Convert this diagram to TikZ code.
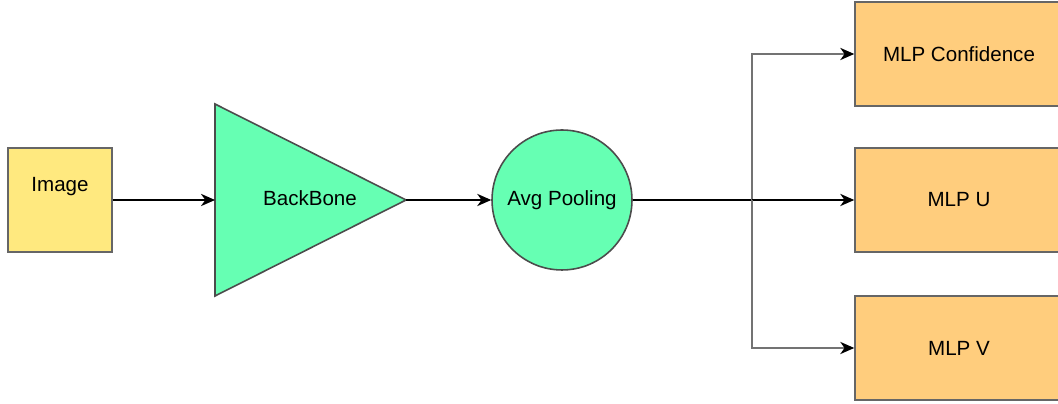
\documentclass[tikz,border=0pt]{standalone}
\usepackage{fontspec}
\setmainfont{Liberation Sans}
\usetikzlibrary{arrows.meta}

\begin{document}
\begin{tikzpicture}[x=0.02cm, y=-0.02cm,
  every node/.style = {font=\fontsize{11.7}{14}\selectfont},
  box/.style = {shape=rectangle, draw=black!60, line width=0.9pt,
    minimum width=2.08cm, minimum height=2.08cm, inner sep=0pt},
  imgbox/.style = {box, fill=imgfill},
  mlpbox/.style = {box, fill=mlpfill, minimum width=4.16cm},
  arr/.style = {line width=0.8pt, -{Stealth[length=8pt, width=7pt, inset=2.5pt, black]}},
  branch/.style = {arr, draw=black!55}]
  \definecolor{imgfill}{HTML}{FFE97F}
  \definecolor{netfill}{HTML}{66FFB3}
  \definecolor{mlpfill}{HTML}{FFCD7D}
  \useasboundingbox (0,0) rectangle (1058,404);
  \node[imgbox, label={[yshift=0.26cm]center:Image}] (img) at (60,200) {};
  \draw[draw=black!70, line width=0.9pt, fill=netfill]
    (215,104) coordinate (bbw1) -- (406,200) coordinate (bbtip)
    -- (215,296) coordinate (bbw2) -- cycle;
  \coordinate (bbw) at (215,200);
  \node (bb) at (310,198) {BackBone};
  \node[circle, draw=black!70, line width=0.9pt, fill=netfill,
    minimum size=2.8cm, inner sep=0pt] (pool) at (562,200) {Avg Pooling};
  \node[mlpbox] (conf) at (959,54) {MLP Confidence};
  \node[mlpbox] (mlpu) at (959,200) {MLP U};
  \node[mlpbox] (mlpv) at (959,348) {MLP V};
  \coordinate (split) at (752,200);
  \draw[arr] (img.east) -- (bbw);
  \draw[arr] (bbtip) -- (pool.west);
  \draw[line width=1.2pt] (pool.east) -- (split);
  \draw[branch] (split) |- (conf.west);
  \draw[arr] (split) -- (mlpu.west);
  \draw[branch] (split) |- (mlpv.west);
\end{tikzpicture}
\end{document}
